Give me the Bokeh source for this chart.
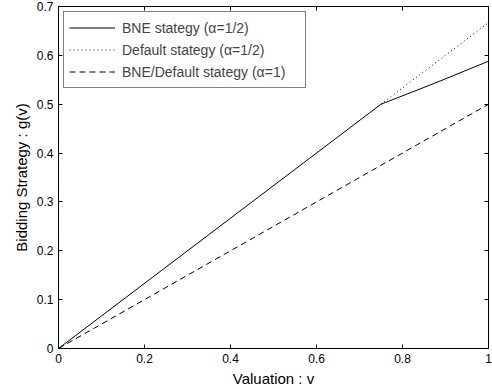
from bokeh.plotting import figure
from bokeh.models import (Range1d, LinearAxis, FixedTicker, Legend, LegendItem,
                          CustomJSTickFormatter, CustomLabelingPolicy)
from bokeh.embed import file_html
from bokeh.resources import INLINE

# Data
v_bne = [0.0, 0.75, 0.875, 1.0]
g_bne = [0.0, 0.5, 0.543, 0.588]
v_def = [0.75, 1.0]
g_def = [0.5, 0.667]
v_a1 = [0.0, 1.0]
g_a1 = [0.0, 0.5]
x_ticks = [0, 0.2, 0.4, 0.6, 0.8, 1.0]
y_ticks = [0, 0.1, 0.2, 0.3, 0.4, 0.5, 0.6, 0.7]
labels = ["BNE stategy (\u03b1=1/2)", "Default stategy (\u03b1=1/2)", "BNE/Default stategy (\u03b1=1)"]

FONT = "Liberation Sans"

p = figure(width=492, height=389, output_backend="svg", toolbar_location=None,
           x_range=Range1d(0, 1), y_range=Range1d(0, 0.7),
           min_border_left=58, min_border_right=0, min_border_top=6, min_border_bottom=41,
           x_axis_label="Valuation : v", y_axis_label="Bidding Strategy : g(v)")
p.grid.visible = False
p.outline_line_color = "black"
p.outline_line_width = 1
p.background_fill_color = "white"
p.border_fill_color = "white"

fmt = CustomJSTickFormatter(code="""
if (Math.abs(tick) < 1e-9) return "0";
if (Math.abs(tick - 1) < 1e-9) return "1";
return tick.toFixed(1);
""")

for ax in p.xaxis:
    ax.ticker = FixedTicker(ticks=x_ticks)
for ax in p.yaxis:
    ax.ticker = FixedTicker(ticks=y_ticks)

for ax in list(p.xaxis) + list(p.yaxis):
    ax.formatter = fmt
    ax.major_tick_in = 4
    ax.major_tick_out = 0
    ax.minor_tick_in = 0
    ax.minor_tick_out = 0
    ax.axis_line_color = "black"
    ax.major_tick_line_color = "black"
    ax.major_label_text_font = FONT
    ax.major_label_text_font_size = "12px"
    ax.major_label_text_color = "black"
    ax.axis_label_text_font = FONT
    ax.axis_label_text_font_size = "15px"
    ax.axis_label_text_font_style = "normal"
    ax.axis_label_text_color = "black"
    ax.major_label_standoff = 5
    ax.axis_label_standoff = 4

# mirrored axes (box with inward ticks, no labels)
hide_all = "for (const i of indices) indices.unset(i)"
top = LinearAxis(ticker=FixedTicker(ticks=x_ticks),
                 major_label_policy=CustomLabelingPolicy(code=hide_all),
                 major_label_text_font_size="1px",
                 major_tick_in=4, major_tick_out=0, minor_tick_in=0, minor_tick_out=0,
                 axis_line_color="black", major_label_standoff=0)
right = LinearAxis(ticker=FixedTicker(ticks=y_ticks),
                   major_label_policy=CustomLabelingPolicy(code=hide_all),
                   major_label_text_font_size="1px",
                   major_tick_in=4, major_tick_out=0, minor_tick_in=0, minor_tick_out=0,
                   axis_line_color="black", major_label_standoff=0)
p.add_layout(top, "above")
p.add_layout(right, "right")

r1 = p.line(v_bne, g_bne, line_color="black", line_width=1)
r2 = p.line(v_def, g_def, line_color="black", line_width=1, line_dash="1 3")
r3 = p.line(v_a1, g_a1, line_color="black", line_width=1, line_dash="6 4")

legend = Legend(items=[LegendItem(label=labels[0], renderers=[r1]),
                       LegendItem(label=labels[1], renderers=[r2]),
                       LegendItem(label=labels[2], renderers=[r3])],
                location="top_left", margin=5, padding=5, spacing=1,
                glyph_width=46, glyph_height=21, label_standoff=7,
                label_width=178,
                label_text_font=FONT, label_text_font_size="14px",
                border_line_color="black", border_line_width=1,
                background_fill_color="white", background_fill_alpha=1)
p.add_layout(legend)

open("out.html", "w").write(file_html(p, INLINE))
